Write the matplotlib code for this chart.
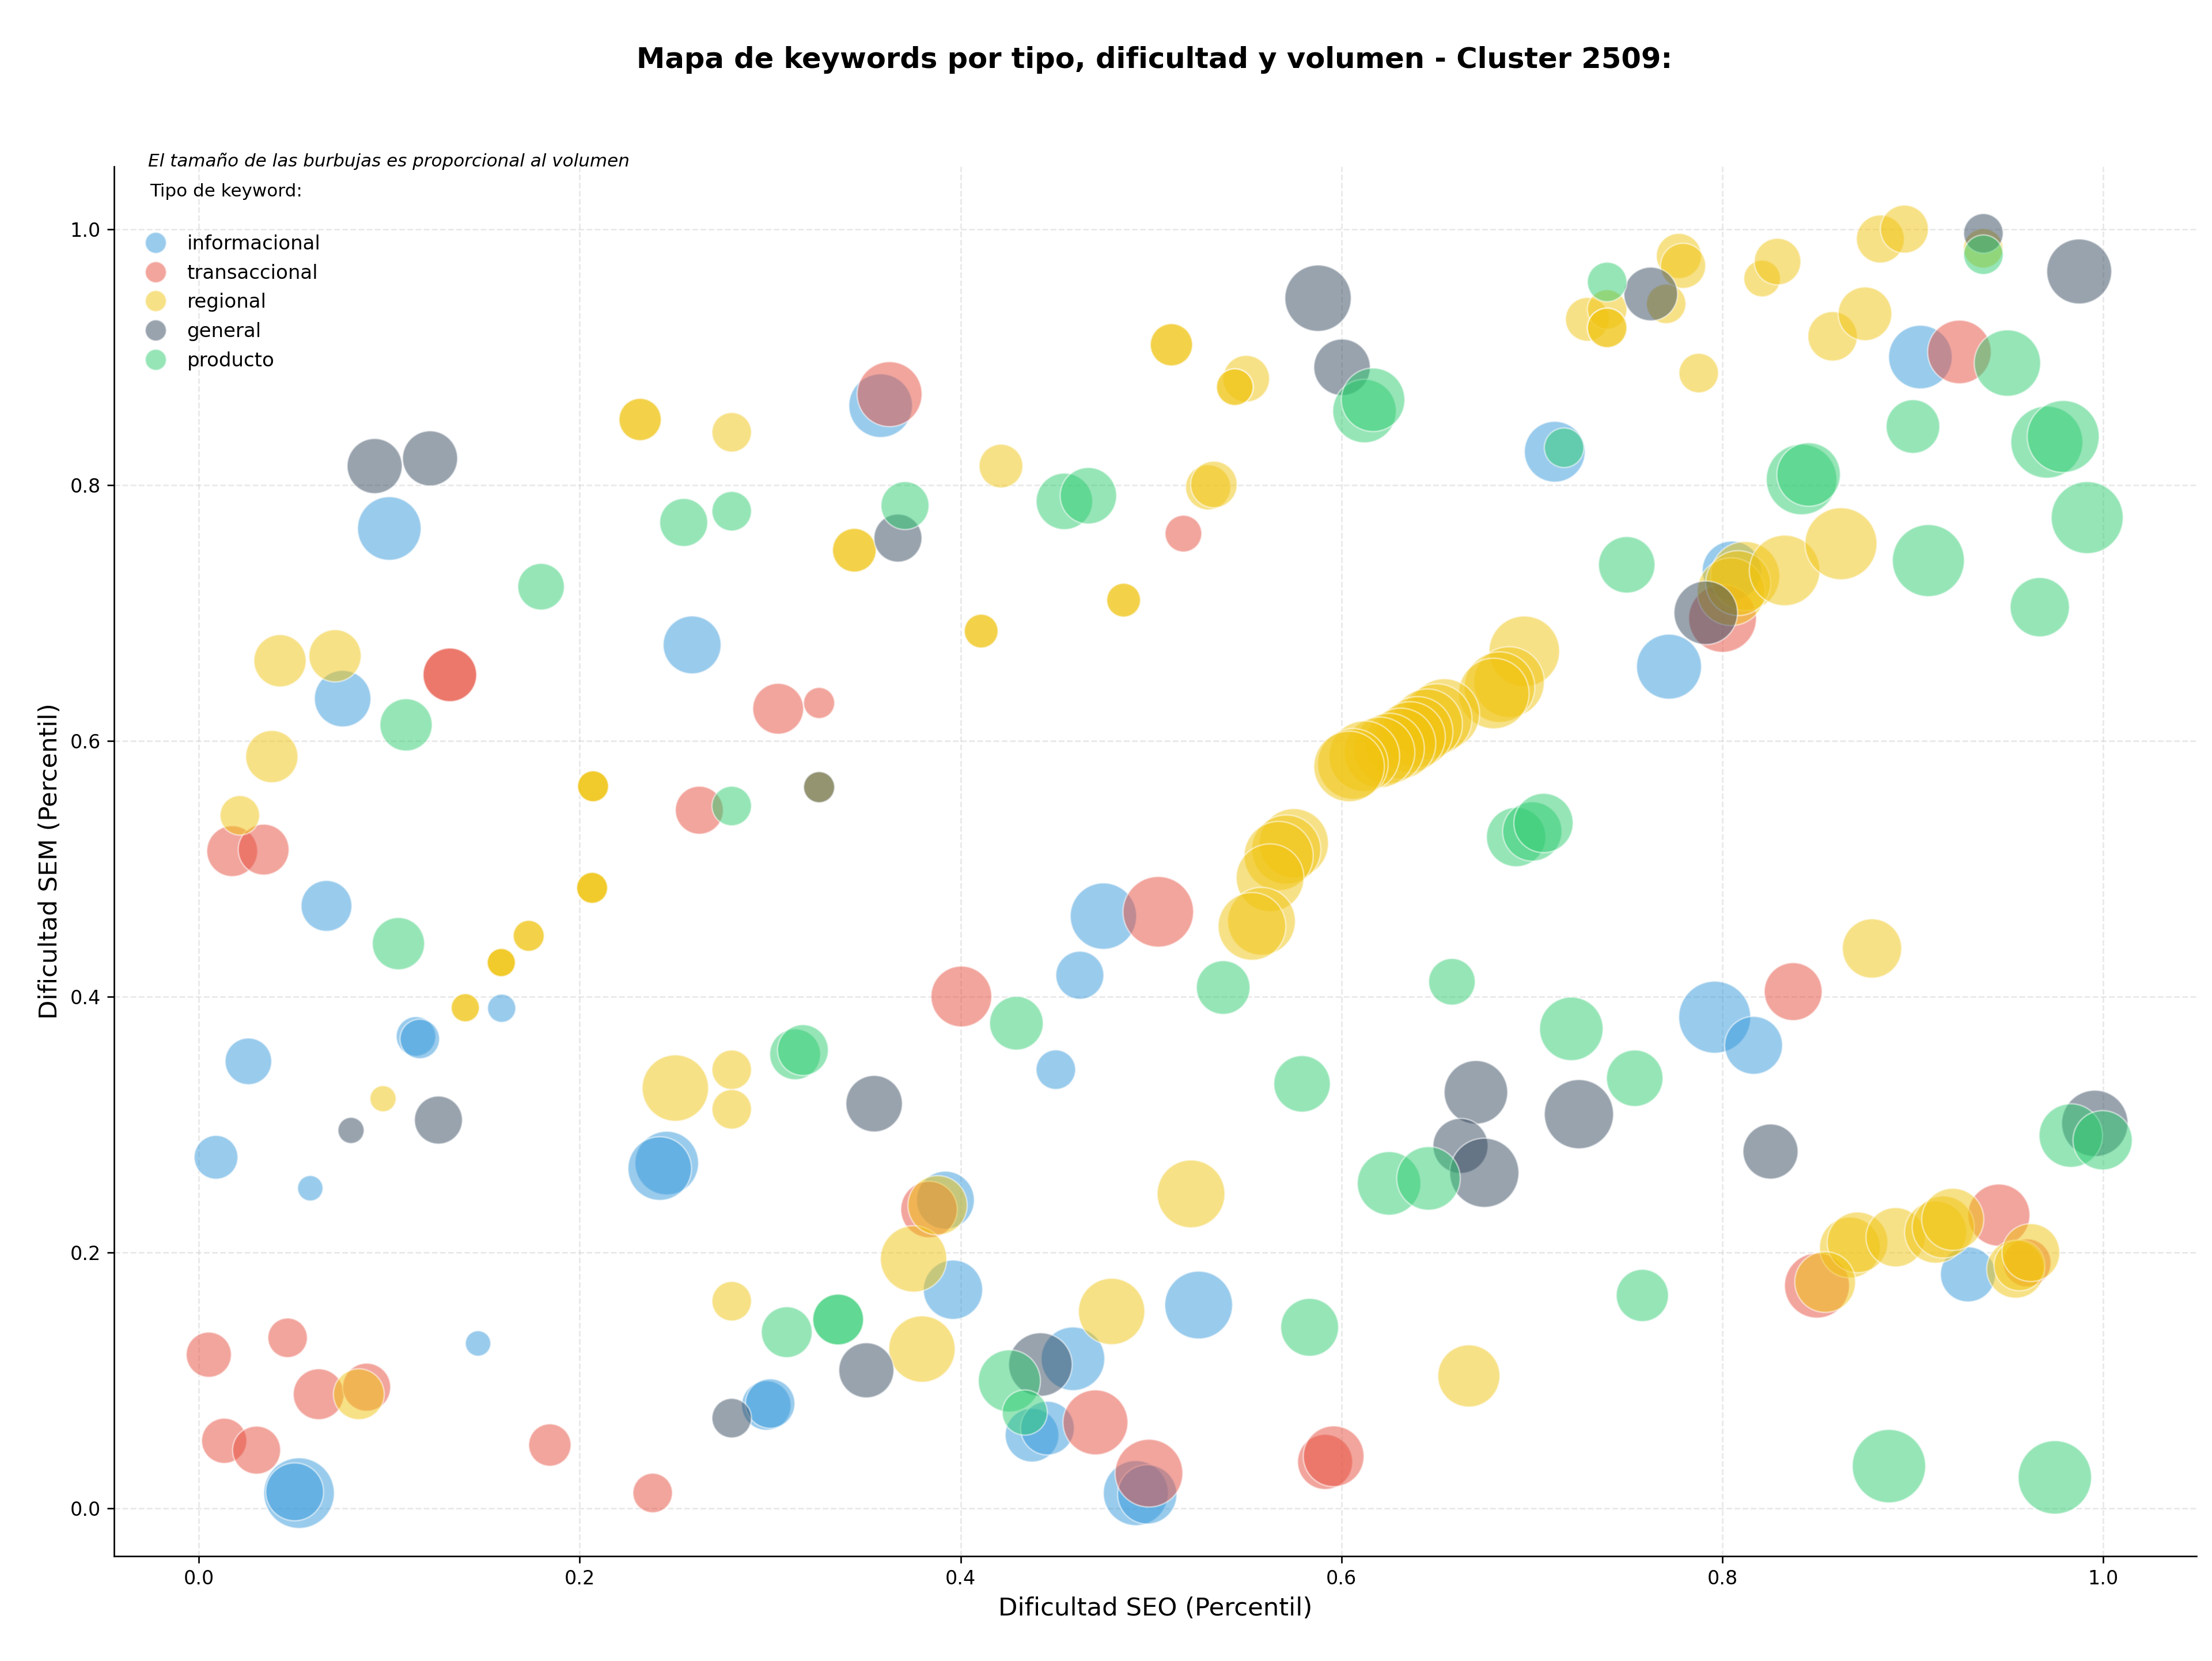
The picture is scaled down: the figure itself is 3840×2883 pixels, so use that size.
import matplotlib
matplotlib.use("Agg")
import matplotlib.pyplot as plt
from matplotlib.lines import Line2D

# --- datos por tipo de keyword: dificultad SEO (x), dificultad SEM (y), volumen ---
tipos = ['informacional', 'transaccional', 'regional', 'general', 'producto']
colores = ['#3498db', '#e74c3c', '#f1c40f', '#34495e', '#2ecc71']

info_seo = [0.100, 0.0755, 0.259, 0.067, 0.026, 0.009, 0.0585, 0.114, 0.116, 0.159, 0.1466,
            0.0526, 0.0503, 0.2457, 0.242, 0.396, 0.392, 0.4626, 0.450, 0.475, 0.459,
            0.4375, 0.4456, 0.492, 0.498, 0.358, 0.525, 0.712, 0.772, 0.796, 0.8164,
            0.904, 0.929, 0.805, 0.298, 0.300]
info_sem = [0.766, 0.633, 0.675, 0.471, 0.3495, 0.2745, 0.2503, 0.369, 0.367, 0.391, 0.129,
            0.012, 0.013, 0.270, 0.2657, 0.171, 0.241, 0.4168, 0.343, 0.463, 0.117,
            0.0573, 0.0628, 0.012, 0.011, 0.862, 0.159, 0.826, 0.658, 0.384, 0.362,
            0.900, 0.183, 0.733, 0.0805, 0.082]
info_vol = [2190, 1730, 1815, 1400, 1176, 1038, 350, 847, 847, 432, 350,
            2700, 1815, 2190, 2190, 1905, 1815, 1248, 847, 2386, 2190,
            1560, 1560, 2285, 1905, 2190, 2488, 2000, 2285, 2809, 1815,
            2190, 1643, 1905, 1323, 1323]

trans_seo = [0.3627, 0.1318, 0.1318, 0.0175, 0.034, 0.3042, 0.3257, 0.2628, 0.517, 0.4004,
             0.5038, 0.3834, 0.4708, 0.4989, 0.0052, 0.0466, 0.0629, 0.0881, 0.0133,
             0.0303, 0.1843, 0.2383, 0.5914, 0.5959, 0.9245, 0.8001, 0.8372, 0.8497,
             0.9452, 0.960]
trans_sem = [0.871, 0.6516, 0.6516, 0.5138, 0.515, 0.6251, 0.6296, 0.5458, 0.762, 0.4002,
             0.4664, 0.2337, 0.0673, 0.0276, 0.1202, 0.1334, 0.0893, 0.0948, 0.0529,
             0.0456, 0.0496, 0.0121, 0.0364, 0.0408, 0.904, 0.6957, 0.404, 0.1742,
             0.2293, 0.192]
trans_vol = [2285, 1560, 1560, 1400, 1400, 1400, 523, 1248, 730, 2000,
             2700, 1728, 2285, 2488, 1106, 847, 1400, 1248, 1106,
             1248, 972, 847, 1643, 2000, 2190, 2488, 1815, 2285,
             2091, 1248]

reg_seo = [0.2317, 0.2317, 0.2798, 0.4212, 0.3442, 0.3442, 0.4108, 0.4108, 0.4856, 0.4856,
           0.5107, 0.5107, 0.550, 0.544, 0.544, 0.530, 0.533, 0.7291, 0.7395, 0.7395,
           0.7395, 0.7772, 0.7794, 0.7705, 0.7876, 0.8209, 0.829, 0.883, 0.8956, 0.8579,
           0.8749, 0.812, 0.8046, 0.8083, 0.8327, 0.8623, 0.8786,
           0.867, 0.871, 0.854, 0.891, 0.912, 0.916, 0.921, 0.954, 0.956, 0.962,
           0.696, 0.688, 0.683, 0.680, 0.654, 0.650, 0.645, 0.640, 0.636, 0.631, 0.625,
           0.620, 0.612, 0.606, 0.604, 0.575, 0.571, 0.567, 0.5625, 0.558, 0.553,
           0.0426, 0.0715, 0.0383, 0.0215, 0.207, 0.207, 0.207, 0.2065, 0.2065, 0.2065,
           0.1732, 0.1732, 0.1588, 0.1588, 0.1588, 0.1399, 0.1399, 0.0967, 0.084,
           0.2502, 0.2798, 0.2798, 0.2798, 0.3753, 0.3797, 0.3879, 0.4793, 0.521, 0.6669,
           0.937, 0.3257]
reg_sem = [0.8512, 0.8512, 0.8412, 0.8148, 0.749, 0.749, 0.6858, 0.6858, 0.710, 0.710,
           0.9096, 0.9096, 0.8831, 0.8765, 0.8765, 0.7982, 0.8004, 0.9295, 0.9372, 0.9228,
           0.9228, 0.979, 0.9713, 0.9416, 0.8875, 0.9614, 0.9746, 0.9923, 1.000, 0.9162,
           0.9338, 0.7288, 0.7166, 0.7233, 0.7332, 0.7541, 0.4377,
           0.204, 0.208, 0.177, 0.212, 0.216, 0.220, 0.226, 0.187, 0.190, 0.200,
           0.670, 0.646, 0.642, 0.637, 0.621, 0.617, 0.613, 0.607, 0.603, 0.598, 0.594,
           0.591, 0.588, 0.582, 0.580, 0.520, 0.515, 0.510, 0.493, 0.459, 0.455,
           0.6626, 0.6665, 0.5877, 0.5418, 0.5645, 0.5645, 0.5645, 0.4851, 0.4851, 0.4851,
           0.4476, 0.4476, 0.4267, 0.4267, 0.4267, 0.3914, 0.3914, 0.3203, 0.0893,
           0.3286, 0.3429, 0.312, 0.162, 0.1951, 0.1246, 0.237, 0.154, 0.2459, 0.1036,
           0.985, 0.5638]
reg_vol = [972, 972, 847, 1038, 1038, 1038, 622, 622, 622, 622,
           972, 972, 1176, 730, 730, 1106, 1176, 1038, 847, 847,
           847, 1106, 1106, 847, 847, 730, 1176, 1248, 1248, 1323,
           1560, 2593, 2488, 2285, 2700, 2809, 1905,
           2000, 2000, 2000, 1905, 2091, 2091, 2091, 1815, 1400, 1815,
           2700, 2700, 2700, 2700, 2700, 2700, 2700, 2700, 2700, 2700, 2700,
           2700, 2700, 2700, 2700, 2593, 2593, 2593, 2488, 2488, 2488,
           1479, 1479, 1479, 847, 523, 523, 523, 523, 523, 523,
           523, 523, 432, 432, 432, 432, 432, 370, 1400,
           2386, 847, 847, 847, 2386, 2386, 1905, 2386, 2488, 2091,
           847, 523]

gen_seo = [0.0923, 0.1214, 0.3671, 0.5877, 0.6003, 0.7624, 0.9371, 0.9874, 0.7913, 0.1258,
           0.0799, 0.3546, 0.3505, 0.2798, 0.4419, 0.6706, 0.6625, 0.675, 0.7247, 0.8253,
           0.9956, 0.3257]
gen_sem = [0.8148, 0.8208, 0.7585, 0.946, 0.892, 0.9493, 0.9967, 0.9669, 0.7001, 0.3036,
           0.2955, 0.3164, 0.108, 0.0706, 0.1125, 0.3253, 0.2834, 0.2624, 0.3082, 0.279,
           0.301, 0.5638]
gen_vol = [1643, 1643, 1248, 2386, 1728, 1560, 847, 2285, 2187, 1248,
           370, 1728, 1643, 847, 2187, 2187, 1643, 2593, 2593, 1643,
           2386, 523]

prod_seo = [0.1797, 0.1088, 0.2546, 0.2798, 0.3708, 0.2798, 0.4545, 0.4671, 0.6121, 0.6166,
            0.7169, 0.7395, 0.9371, 0.9001, 0.8416, 0.8453, 0.9497, 0.9704, 0.979, 0.9916,
            0.9082, 0.7498, 0.9667, 0.6917, 0.7002, 0.7061, 0.658, 0.5379, 0.5793, 0.625,
            0.6457, 0.7207, 0.754, 0.758, 0.5833, 0.8875, 0.9746, 0.983, 0.9997, 0.4256,
            0.4337, 0.3087, 0.3357, 0.3357, 0.3131, 0.3172, 0.4293, 0.1048]
prod_sem = [0.7205, 0.6125, 0.7707, 0.7795, 0.7839, 0.5491, 0.7872, 0.7916, 0.8578, 0.8666,
            0.8291, 0.9587, 0.980, 0.8457, 0.8043, 0.8082, 0.8953, 0.8335, 0.8379, 0.7745,
            0.7409, 0.7376, 0.7045, 0.5248, 0.5292, 0.5358, 0.4117, 0.4072, 0.3319, 0.2541,
            0.258, 0.3749, 0.3363, 0.1665, 0.1416, 0.0331, 0.0243, 0.2915, 0.2878, 0.0997,
            0.075, 0.1378, 0.1477, 0.1477, 0.355, 0.3583, 0.3793, 0.4415]
prod_vol = [1176, 1479, 1248, 847, 1248, 847, 1728, 1728, 2187, 2187,
            847, 847, 847, 1560, 2700, 2187, 2386, 2809, 2809, 2809,
            2809, 1728, 1905, 1905, 1905, 1905, 1176, 1560, 1728, 2187,
            2187, 2187, 1728, 1479, 1815, 2920, 2920, 2187, 1905, 2091,
            1106, 1400, 1400, 1400, 1400, 1400, 1560, 1479]

series = [
    (info_seo, info_sem, info_vol),
    (trans_seo, trans_sem, trans_vol),
    (reg_seo, reg_sem, reg_vol),
    (gen_seo, gen_sem, gen_vol),
    (prod_seo, prod_sem, prod_vol),
]

fig = plt.figure(figsize=(16, 12.0125), dpi=240)
ax = fig.add_axes([0.0516, 0.0631, 0.9414, 0.8367])

for (xs, ys, vols), tipo, color in zip(series, tipos, colores):
    ax.scatter(xs, ys, s=[v / 2 for v in vols], c=color, alpha=0.5,
               edgecolors='white', linewidths=0.8, label=tipo)

ax.set_xlim(-0.0445, 1.049)
ax.set_ylim(-0.0373, 1.049)
ax.grid(True, linestyle='--', color='#cccccc', alpha=0.45, linewidth=0.8)
ax.set_axisbelow(True)
ax.spines['top'].set_visible(False)
ax.spines['right'].set_visible(False)
ax.tick_params(labelsize=10)
ax.set_xlabel('Dificultad SEO (Percentil)', fontsize=13)
ax.set_ylabel('Dificultad SEM (Percentil)', fontsize=13)

fig.text(0.522, 0.964, 'Mapa de keywords por tipo, dificultad y volumen - Cluster 2509:',
         ha='center', va='center', fontsize=14.9, fontweight='bold')
fig.text(0.067, 0.903, 'El tamaño de las burbujas es proporcional al volumen',
         ha='left', va='center', fontsize=9.3, style='italic')
fig.text(0.0677, 0.8845, 'Tipo de keyword:', ha='left', va='center', fontsize=9.3)

handles = [Line2D([], [], marker='o', linestyle='', markersize=11, markerfacecolor=c,
                  markeredgecolor='white', markeredgewidth=0.8, alpha=0.5) for c in colores]
fig.legend(handles, tipos, loc='upper left', bbox_to_anchor=(0.0535, 0.8695),
           frameon=False, fontsize=10.2, handletextpad=0.6, labelspacing=0.52)

fig.savefig('out.png', dpi=240)
